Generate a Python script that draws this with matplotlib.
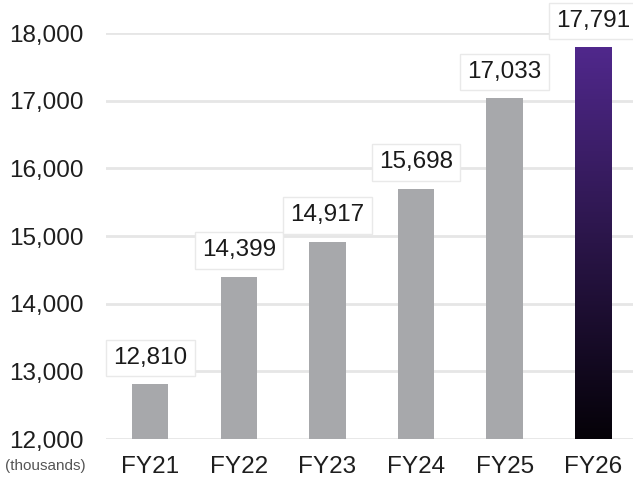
import matplotlib.pyplot as plt
import numpy as np
from matplotlib.colors import LinearSegmentedColormap

plt.rcParams['font.family'] = ['Liberation Sans', 'DejaVu Sans']

years = ['FY21', 'FY22', 'FY23', 'FY24', 'FY25', 'FY26']
members = [12810, 14399, 14917, 15698, 17033, 17791]
yticks = [12000, 13000, 14000, 15000, 16000, 17000, 18000]

fig = plt.figure(figsize=(6.33, 4.79), dpi=100)
ax = fig.add_axes([0.1675, 0.0835, 0.8325, 0.8475])

x = np.arange(len(years))
width = 0.41
ax.bar(x[:-1], members[:-1], width=width, color='#a7a8ab', zorder=2)

# last bar: vertical gradient black -> purple
cmap = LinearSegmentedColormap.from_list('purp', ['#050208', '#2a1548', '#50288c'])
last = ax.bar(x[-1], members[-1], width=width, color='none', zorder=2)[0]
grad = np.linspace(0, 1, 256).reshape(-1, 1)
img = ax.imshow(grad, cmap=cmap, aspect='auto', origin='lower',
                extent=[x[-1] - width / 2, x[-1] + width / 2, 12000, members[-1]],
                zorder=2)
img.set_clip_path(last)

for xi, v in zip(x, members):
    ax.annotate(f'{v:,}', (xi, v), xytext=(0, 19), textcoords='offset points',
                ha='center', va='center', fontsize=17.5, color='#1a1a1a',
                annotation_clip=False, zorder=4,
                bbox=dict(boxstyle='square,pad=0.3', fc='white', ec='#e9e9e9', lw=1))

ax.set_ylim(12000, 18000)
ax.set_xlim(-0.5, 5.45)
ax.set_yticks(yticks)
ax.set_yticklabels([f'{t:,}' for t in yticks])
ax.set_xticks(x)
ax.set_xticklabels(years)
ax.tick_params(axis='both', length=0, labelsize=17.5, colors='#1e1e1e')
ax.tick_params(axis='y', pad=16)
ax.tick_params(axis='x', pad=12)
ax.grid(axis='y', color='#e6e6e6', lw=2, zorder=0)
ax.set_axisbelow(True)
for s in ax.spines.values():
    s.set_visible(False)

fig.text(45 / 633, 1 - 466 / 479, '(thousands)', ha='center', va='center',
         fontsize=11, color='#555555')

fig.savefig('out.png', dpi=100)
